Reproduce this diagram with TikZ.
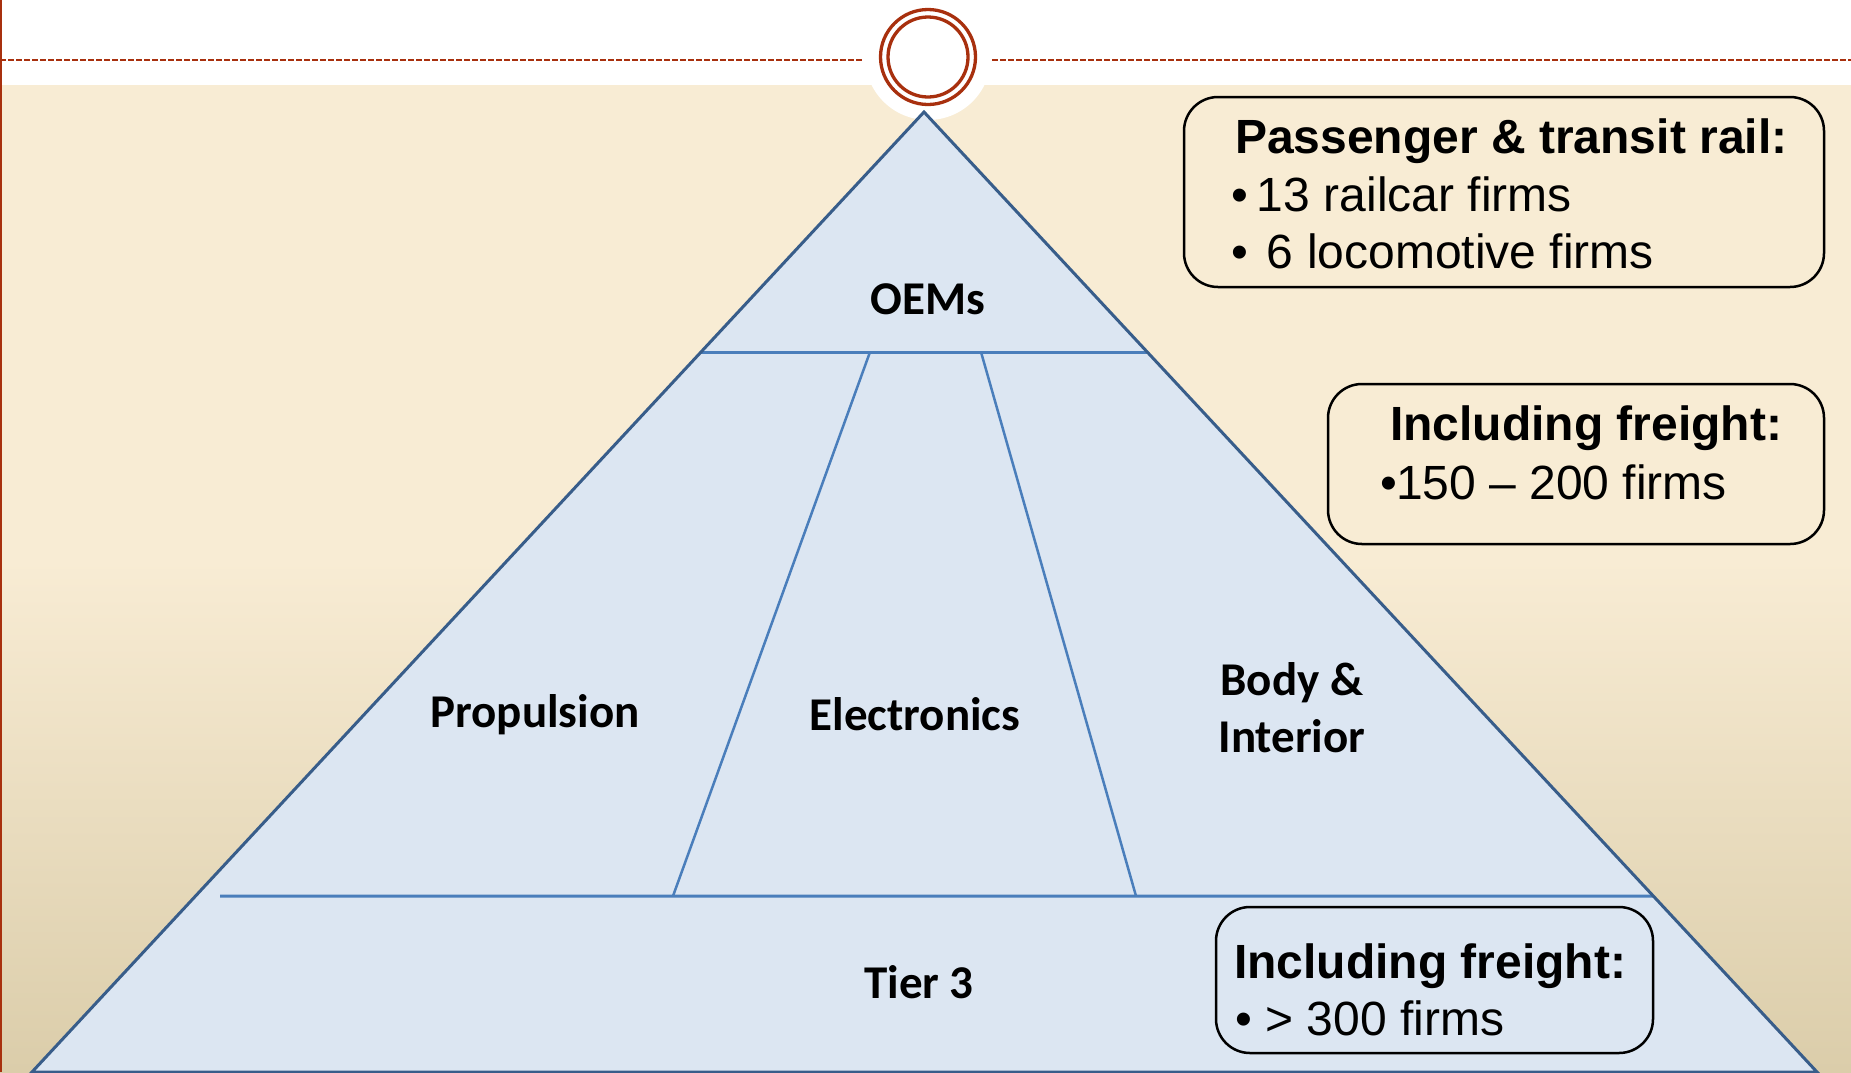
\documentclass[tikz,border=0pt]{standalone}
\usepackage{fontspec}
\usepackage{xcolor}
\usetikzlibrary{calc}
\setmainfont{Liberation Sans}
\newfontfamily\tierfont{Carlito}
\definecolor{slidered}{RGB}{168,48,14}
\definecolor{slidebeige}{RGB}{248,236,212}
\definecolor{slidetan}{RGB}{219,205,170}
\definecolor{pyrfill}{RGB}{220,230,242}
\definecolor{pyredge}{RGB}{56,93,138}
\definecolor{pyrline}{RGB}{74,126,187}

\begin{document}
\begin{tikzpicture}[x=1pt,y=-1pt,
    tier/.style={font=\tierfont\bfseries\fontsize{47}{57}\selectfont, inner sep=0pt, anchor=base, align=center},
    boxtitle/.style={font=\bfseries\fontsize{48}{57}\selectfont, inner sep=0pt, anchor=base west},
    boxline/.style={font=\fontsize{48}{57}\selectfont, inner sep=0pt, anchor=base west},
    infobox/.style={draw=black, line width=2.5pt, rounded corners=34pt, inner sep=0pt}]
        \useasboundingbox (0,0) rectangle (1851,1072);
        % slide background
        \fill[white] (0,0) rectangle (1851,1072);
        \fill[slidebeige] (0,85) rectangle (1851,561);
        \shade[top color=slidebeige, bottom color=slidetan] (0,560) rectangle (1851,1072);
        \fill[white] (928,57) circle (63pt);
        \draw[slidered, line width=2.5pt] (1,0) -- (1,1072);
        \draw[slidered, line width=2.5pt, dash pattern=on 6pt off 2pt] (0,60) -- (863,60);
        \draw[slidered, line width=2.5pt, dash pattern=on 6pt off 2pt] (992,60) -- (1851,60);
        \draw[slidered, line width=3.3pt] (928,57) circle (47.5pt);
        \draw[slidered, line width=3.3pt] (928,57) circle (40pt);
        % pyramid
        \coordinate (apex) at (924,112);
        \coordinate (baseL) at (32,1072);
        \coordinate (baseR) at (1817,1072);
        \fill[pyrfill] (apex) -- (baseR) -- (baseL) -- cycle;
        \draw[pyrline, line width=3pt] ($(apex)!.25!(baseL)$) -- ($(apex)!.25!(baseR)$);
        \draw[pyrline, line width=3pt] (220,896) -- ($(apex)!.8167!(baseR)$);
        \draw[pyrline, line width=2.5pt] (870,352) -- (673,896);
        \draw[pyrline, line width=2.5pt] (981,352) -- (1136,896);
        \draw[pyredge, line width=3pt, line join=miter] (apex) -- (baseR) -- (baseL) -- cycle;
        \node[tier] (oems) at (928,314) {OEMs};
        \node[tier] (propulsion) at (535,727) {Propulsion};
        \node[tier] (electronics) at (915,730) {Electronics};
        \node[tier] (body) at (1292,752) {Body \&\\Interior};
        \node[tier] (tier3) at (919,998) {Tier 3};
        % firm counts
        \node[infobox, minimum width=640pt, minimum height=190pt] (passbox) at (1504,192) {};
        \node[boxtitle] (passtitle) at (1235,153) {Passenger \& transit rail:};
        \node[boxline] (railcar) at (1231,211) {\textbullet\hspace{9pt}13 railcar firms};
        \node[boxline] (loco) at (1231,268) {\textbullet\hspace{19pt}6 locomotive firms};
        \node[infobox, minimum width=496pt, minimum height=160pt] (freightbox) at (1576,464) {};
        \node[boxtitle] (freighttitle) at (1390,440) {Including freight:};
        \node[boxline] (freightfirms) at (1380,499) {\textbullet\hspace{-1pt}150 – 200 firms};
        \node[infobox, minimum width=437pt, minimum height=146pt] (tierbox) at (1434.5,980) {};
        \node[boxtitle] (tiertitle) at (1234,978) {Including freight:};
        \node[boxline] (tierfirms) at (1235,1035) {\textbullet\ > 300 firms};
        % \draw[red] (0,896) -- (1851,896);
\end{tikzpicture}
\end{document}
